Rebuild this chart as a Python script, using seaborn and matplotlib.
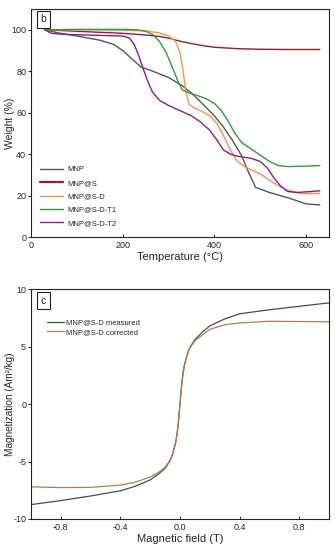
import numpy as np
import pandas as pd
import matplotlib
matplotlib.use("Agg")
import matplotlib.pyplot as plt
import seaborn as sns

# --- TGA data (panel b) ---
mnp_t = [30, 60, 100, 150, 180, 200, 220, 240, 260, 300, 330, 350, 380, 400, 420, 440, 460, 475, 490, 520, 560, 600, 630]
mnp_w = [100, 98.5, 97, 95, 93, 90, 86, 82, 80.5, 77, 73, 69.5, 63, 58.5, 53, 46.5, 39, 31, 24, 21.5, 19, 16, 15.5]

mnps_t = [30, 100, 200, 250, 280, 300, 320, 350, 380, 400, 450, 500, 560, 630]
mnps_w = [100, 99.3, 98.3, 97.5, 96.8, 96, 94.8, 93.3, 92.2, 91.6, 90.9, 90.6, 90.5, 90.5]

mnpsd_t = [30, 100, 200, 250, 280, 300, 315, 325, 332, 338, 345, 355, 370, 390, 405, 420, 435, 450, 470, 500, 530, 560, 590, 630]
mnpsd_w = [100, 100, 99.8, 99.5, 98.5, 97, 94.5, 89, 80, 70, 64, 62.5, 61, 58.5, 55, 49, 42, 36.5, 33.5, 30.5, 26, 22.5, 21, 21]

mnpsdt1_t = [30, 100, 200, 230, 250, 265, 280, 295, 310, 320, 330, 345, 360, 380, 400, 415, 430, 445, 460, 480, 500, 520, 540, 560, 600, 630]
mnpsdt1_w = [100, 100.2, 100.2, 100, 99.3, 97.8, 94.5, 89, 81, 75.5, 71, 69.5, 68.5, 67, 64.5, 61, 56, 50, 45.5, 42.5, 39.5, 36.5, 34.5, 34, 34.2, 34.5]

mnpsdt2_t = [30, 45, 70, 100, 150, 200, 215, 225, 235, 245, 255, 265, 280, 300, 320, 350, 370, 390, 405, 420, 435, 450, 480, 500, 515, 530, 545, 560, 580, 600, 630]
mnpsdt2_w = [100, 98.3, 97.8, 97.6, 97.3, 97, 96, 93, 87.5, 81, 75, 70, 66, 63.5, 61.5, 58.5, 55.5, 51.5, 47, 42, 40, 39, 38, 36.5, 33.5, 28.5, 24.5, 22, 21.5, 21.8, 22.3]

tga_labels = ["MNP", "MNP@S", "MNP@S-D", "MNP@S-D-T1", "MNP@S-D-T2"]
tga_colors = ["#555555", "#9b1b2e", "#f5904e", "#2e9a3a", "#8a1c8e"]

# --- magnetization data (panel c) ---
field = [-1.0, -0.8, -0.6, -0.4, -0.3, -0.2, -0.15, -0.1, -0.07, -0.05, -0.03, -0.02, -0.01, 0.0,
         0.01, 0.02, 0.03, 0.05, 0.07, 0.1, 0.15, 0.2, 0.3, 0.4, 0.6, 0.8, 1.0]
m_measured = [-8.75, -8.4, -8.0, -7.55, -7.15, -6.6, -6.15, -5.6, -5.0, -4.4, -3.4, -2.7, -1.5, 0.0,
              1.5, 2.7, 3.4, 4.4, 5.0, 5.6, 6.25, 6.8, 7.4, 7.85, 8.2, 8.5, 8.8]
m_corrected = [-7.2, -7.27, -7.25, -7.05, -6.8, -6.35, -6.0, -5.5, -4.95, -4.35, -3.35, -2.65, -1.5, 0.0,
               1.5, 2.65, 3.35, 4.35, 4.95, 5.5, 6.0, 6.5, 6.9, 7.05, 7.2, 7.18, 7.15]
mag_labels = ["MNP@S-D measured", "MNP@S-D corrected"]
mag_colors = ["#4a4a4a", "#b87a52"]

sns.set_theme(style="ticks")
plt.rcParams['font.family'] = ['Liberation Sans', 'DejaVu Sans']

fig = plt.figure(figsize=(3.35, 5.5), dpi=100)
ax1 = fig.add_axes([0.0925, 0.569, 0.8895, 0.4145])
ax2 = fig.add_axes([0.0925, 0.0564, 0.8895, 0.418])

# panel b
series = [(mnp_t, mnp_w), (mnps_t, mnps_w), (mnpsd_t, mnpsd_w), (mnpsdt1_t, mnpsdt1_w), (mnpsdt2_t, mnpsdt2_w)]
frames = []
for lab, (t, w) in zip(tga_labels, series):
    frames.append(pd.DataFrame({"T": t, "W": w, "sample": lab}))
tga = pd.concat(frames, ignore_index=True)
sns.lineplot(data=tga, x="T", y="W", hue="sample", hue_order=tga_labels,
             palette=tga_colors, linewidth=1.0, sort=False, ax=ax1)
ax1.set_xlim(0, 650)
ax1.set_ylim(0, 110)
ax1.set_xticks([0, 200, 400, 600])
ax1.set_yticks([0, 20, 40, 60, 80, 100])
ax1.set_xlabel("Temperature (°C)", fontsize=8, labelpad=1)
ax1.set_ylabel("Weight (%)", fontsize=7.5)
ax1.yaxis.set_label_coords(-0.055, 0.5)
leg = ax1.legend(loc="lower left", bbox_to_anchor=(0.02, 0.03), frameon=False, fontsize=5.5,
                 handlelength=3.0, labelspacing=0.8, handletextpad=0.55, borderaxespad=0.0)
leg.get_lines()[1].set_linewidth(1.6)
ax1.text(0.042, 0.955, "b", transform=ax1.transAxes, fontsize=7.5, ha="center", va="center",
         bbox=dict(boxstyle="square,pad=0.35", fc="white", ec="#222222", lw=0.8))

# panel c
mag = pd.concat([
    pd.DataFrame({"H": field, "M": m_measured, "sample": mag_labels[0]}),
    pd.DataFrame({"H": field, "M": m_corrected, "sample": mag_labels[1]}),
], ignore_index=True)
sns.lineplot(data=mag, x="H", y="M", hue="sample", hue_order=mag_labels,
             palette=mag_colors, linewidth=0.9, sort=False, ax=ax2)
ax2.set_xlim(-1, 1)
ax2.set_ylim(-10, 10)
ax2.set_xticks([-0.8, -0.4, 0.0, 0.4, 0.8])
ax2.set_xticklabels(["-0.8", "-0.4", "0.0", "0.4", "0.8"])
ax2.set_yticks([-10, -5, 0, 5, 10])
ax2.set_yticklabels(["-10", "-5", "0", "5", "10"])
ax2.set_xlabel("Magnetic field (T)", fontsize=8, labelpad=1)
ax2.set_ylabel("Magnetization (Am²/kg)", fontsize=7.2)
ax2.yaxis.set_label_coords(-0.055, 0.5)
ax2.legend(loc="upper left", bbox_to_anchor=(0.03, 0.9), frameon=False, fontsize=5.5,
           handlelength=2.2, labelspacing=0.3, handletextpad=0.3)
ax2.text(0.042, 0.95, "c", transform=ax2.transAxes, fontsize=7.5, ha="center", va="center",
         bbox=dict(boxstyle="square,pad=0.35", fc="white", ec="#222222", lw=0.8))

for ax in (ax1, ax2):
    for s in ax.spines.values():
        s.set_linewidth(0.8)
        s.set_color("#222222")
    ax.tick_params(axis="x", direction="in", length=2.5, width=0.7, labelsize=6.5, pad=3)
    ax.tick_params(axis="y", direction="out", length=2.0, width=0.7, labelsize=6.5, pad=1.5)

fig.savefig("out.png", dpi=100)
